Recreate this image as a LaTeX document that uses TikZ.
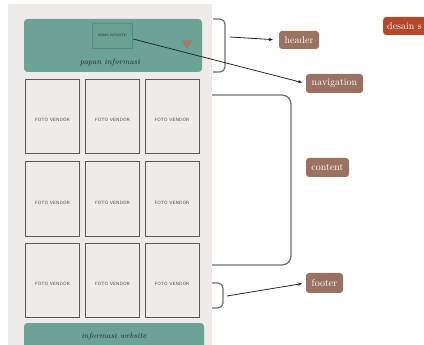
\documentclass[tikz,border=0pt]{standalone}
\usepackage{fontspec}
\usetikzlibrary{arrows.meta}
\definecolor{pagebg}{HTML}{EFEBE8}
\definecolor{tealfill}{HTML}{6CA396}
\definecolor{tealinner}{HTML}{68A092}
\definecolor{tealline}{HTML}{4F9080}
\definecolor{brownlab}{HTML}{9B7262}
\definecolor{orangelab}{HTML}{B4482A}
\definecolor{trifill}{HTML}{A57A66}
\definecolor{brk}{HTML}{707070}
\definecolor{boxline}{HTML}{5A5A5A}
\tikzset{
  tealbox/.style={fill=tealfill, draw=none, rounded corners=3.5pt, inner sep=0pt},
  fotobox/.style={draw=boxline, line width=0.9pt, fill=pagebg, inner sep=0pt,
    font=\sffamily\fontsize{4.6}{5}\selectfont, text=black!70},
  lab/.style={fill=brownlab, text=white, rounded corners=3pt, inner sep=0pt,
    font=\fontsize{10}{12}\selectfont},
  bracketline/.style={draw=brk, line width=1.2pt},
  arr/.style={draw=black!85, line width=0.8pt, -{Stealth[length=4pt,width=3.5pt]}},
  script/.style={font=\itshape\fontsize{8}{9}\selectfont, text=black!85}
}
\begin{document}
\begin{tikzpicture}[x=1pt,y=-1pt]
\useasboundingbox (0,0) rectangle (424,345);
\clip (0,0) rectangle (424,345);
% page panel
\fill[pagebg] (8,4) rectangle (212,350);
% header
\node[tealbox, minimum width=178pt, minimum height=53pt] (hdr) at (113,45.5) {};
\node[draw=tealline, line width=0.9pt, fill=tealinner, minimum width=40pt, minimum height=25pt, inner sep=0pt,
  font=\sffamily\bfseries\fontsize{3.4}{4}\selectfont, text=black!70] (nama) at (112,35.5) {NAMA WEBSITE};
\fill[trifill] (181.5,40.5) -- (192.5,40.5) -- (187,49) -- cycle;
\node[script] (papan) at (110,63) {papan informasi};
% foto boxes
\foreach \r/\cy/\h in {1/116/74, 2/198.5/75, 3/280/74}{
  \foreach \c/\cx in {1/52.5, 2/112.5, 3/172}{
    \node[fotobox, minimum width=54pt, minimum height=\h pt] (f\r\c) at (\cx,\cy) {};
    \node[font=\sffamily\fontsize{4.6}{5}\selectfont, text=black!70, inner sep=0pt] (t\r\c) at ([yshift=-4pt]f\r\c.center) {FOTO VENDOR};
  }
}
% footer
\node[tealbox, minimum width=180pt, minimum height=40pt] (ftr) at (114,343) {};
\node[script] (infow) at (114,336) {informasi website};
% brackets
\draw[bracketline, rounded corners=5pt] (213,19) -- (225,19) -- (225,72) -- (213,72);
\draw[bracketline, rounded corners=9pt] (212,95) -- (291,95) -- (291,265) -- (212,265);
\draw[bracketline, rounded corners=5pt] (212,283) -- (223,283) -- (223,308) -- (212,308);
% labels
\node[lab, minimum width=40pt, minimum height=18pt] (lheader) at (299,40) {header};
\node[lab, minimum width=57pt, minimum height=19pt] (lnav) at (334.5,83.5) {navigation};
\node[lab, minimum width=43pt, minimum height=19pt] (lcontent) at (327.5,167.5) {content};
\node[lab, minimum width=37pt, minimum height=20pt] (lfooter) at (324.5,283) {footer};
\node[lab, fill=orangelab, minimum height=18pt, anchor=west, text width=60pt, align=left, inner xsep=4pt] (ldesain) at (383,26) {desain s};
% arrows
\coordinate (hs) at (230,37);
\coordinate (ns) at (133,39);
\coordinate (fs) at (227,296);
\draw[arr, shorten >=6pt] (hs) -- (lheader.west);
\draw[arr, shorten >=4pt] (ns) -- (lnav.west);
\draw[arr, shorten >=4pt] (fs) -- (lfooter.west);
\end{tikzpicture}
\end{document}
